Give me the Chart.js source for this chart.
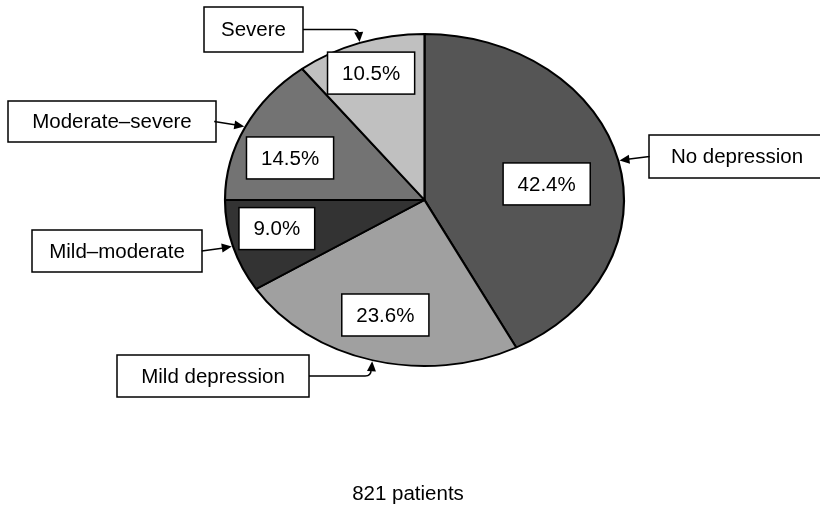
<!DOCTYPE html>
<html><head><meta charset="utf-8">
<script src="https://cdn.jsdelivr.net/npm/chart.js@4/dist/chart.umd.min.js"></script>
<style>html,body{margin:0;padding:0;background:#fff}#wrap{width:820px;height:507px;position:relative}</style>
</head><body><div id="wrap"><canvas id="c"></canvas></div>
<script>
// ---- data ----
const categories = ['No depression', 'Mild depression', 'Mild–moderate', 'Moderate–severe', 'Severe'];
const percentages = [42.4, 23.6, 9.0, 14.5, 10.5];
const caption = '821 patients';

// ---- style / layout ----
const sliceColors = ['#555555', '#a0a0a0', '#333333', '#737373', '#c0c0c0'];
const ellipseStretchX = 1.2018;            // pie is drawn as an ellipse
const innerLabelRadius = [0.62, 0.72, 0.76, 0.72, 0.81];
const innerLabelAngleNudge = [4.7, 0.7, 3.1, -5.5, -0.4];  // degrees, clockwise
const outerBoxes = [                       // x, y, w, h of category boxes
  [649, 135, 176, 43],
  [117, 355, 192, 42],
  [32, 230, 170, 42],
  [8, 101, 208, 41],
  [204, 7, 99, 45]
];
const FONT = '20.5px "Liberation Sans", Arial, Helvetica, sans-serif';

const ellipsePlugin = {
  id: 'ellipse',
  beforeDatasetsDraw(chart) {
    const a = chart.getDatasetMeta(0).data[0];
    const ctx = chart.ctx;
    ctx.save();
    ctx.translate(a.x, a.y);
    ctx.scale(ellipseStretchX, 1);
    ctx.translate(-a.x, -a.y);
  },
  afterDatasetsDraw(chart) {
    chart.ctx.restore();
  }
};

function drawBox(ctx, x, y, w, h, text) {
  ctx.fillStyle = '#fff';
  ctx.fillRect(x, y, w, h);
  ctx.lineWidth = 1.5;
  ctx.strokeStyle = '#000';
  ctx.strokeRect(x, y, w, h);
  ctx.fillStyle = '#000';
  ctx.font = FONT;
  ctx.textAlign = 'center';
  ctx.textBaseline = 'middle';
  ctx.fillText(text, x + w / 2, y + h / 2 + 1);
}

const labelPlugin = {
  id: 'labels',
  afterDraw(chart) {
    const ctx = chart.ctx;
    const arcs = chart.getDatasetMeta(0).data;
    ctx.save();
    arcs.forEach((arc, i) => {
      const cx = arc.x, cy = arc.y, r = arc.outerRadius;
      const mid = (arc.startAngle + arc.endAngle) / 2;
      // inner percentage box
      const a2 = mid + innerLabelAngleNudge[i] * Math.PI / 180;
      const lx = cx + Math.cos(a2) * r * innerLabelRadius[i] * ellipseStretchX;
      const ly = cy + Math.sin(a2) * r * innerLabelRadius[i];
      const txt = percentages[i].toFixed(1) + '%';
      ctx.font = FONT;
      const tw = ctx.measureText(txt).width;
      const bw = tw + 29, bh = 42;
      drawBox(ctx, lx - bw / 2, ly - bh / 2, bw, bh, txt);
      // outer category box + arrow
      const [bx, by, bW, bH] = outerBoxes[i];
      drawBox(ctx, bx, by, bW, bH, categories[i]);
      const tipX = cx + Math.cos(mid) * (r + 1) * ellipseStretchX;
      const tipY = cy + Math.sin(mid) * (r + 1);
      const fromLeft = bx + bW / 2 > cx;
      const sx = fromLeft ? bx : bx + bW;
      const sy = by + bH / 2;
      const dir = fromLeft ? -1 : 1;
      ctx.beginPath();
      ctx.lineWidth = 1.5;
      ctx.strokeStyle = '#000';
      ctx.moveTo(sx, sy);
      let px, py;
      const dy = tipY - sy;
      if (Math.abs(dy) < 6) {
        px = tipX - dir * 30; py = sy;
        ctx.lineTo(px, py);
        ctx.lineTo(tipX - dir * 8, tipY - dy * 0.3);
      } else if (Math.abs(dy) < 12) {
        px = tipX - dir * 14; py = sy;
        ctx.lineTo(px, py);
        ctx.lineTo(tipX - dir * 5, tipY - dy * 0.2);
      } else {
        ctx.lineTo(tipX - dir * 7, sy);
        ctx.quadraticCurveTo(tipX - dir * 1, sy, tipX - dir * 1, tipY - Math.sign(dy) * 8);
        px = tipX - dir * 1; py = sy;
      }
      ctx.stroke();
      // arrow head
      const ang = Math.atan2(tipY - py, tipX - px);
      const L = 10, W = 4.5;
      ctx.beginPath();
      ctx.moveTo(tipX, tipY);
      ctx.lineTo(tipX - L * Math.cos(ang) + W * Math.sin(ang), tipY - L * Math.sin(ang) - W * Math.cos(ang));
      ctx.lineTo(tipX - L * Math.cos(ang) - W * Math.sin(ang), tipY - L * Math.sin(ang) + W * Math.cos(ang));
      ctx.closePath();
      ctx.fillStyle = '#000';
      ctx.fill();
    });
    // caption
    ctx.fillStyle = '#000';
    ctx.font = FONT;
    ctx.textAlign = 'center';
    ctx.textBaseline = 'middle';
    ctx.fillText(caption, 408, 494);
    ctx.restore();
  }
};

new Chart(document.getElementById('c'), {
  type: 'pie',
  data: {
    labels: categories,
    datasets: [{
      data: percentages,
      backgroundColor: sliceColors,
      borderColor: '#000',
      borderWidth: 1.8,
      borderAlign: 'center'
    }]
  },
  options: {
    responsive: true,
    maintainAspectRatio: false,
    animation: false,
    events: [],
    radius: 166,
    layout: { padding: { left: 29, right: 0, top: 0, bottom: 107 } },
    plugins: { legend: { display: false }, tooltip: { enabled: false }, title: { display: false } }
  },
  plugins: [ellipsePlugin, labelPlugin]
});
</script>
</body></html>
